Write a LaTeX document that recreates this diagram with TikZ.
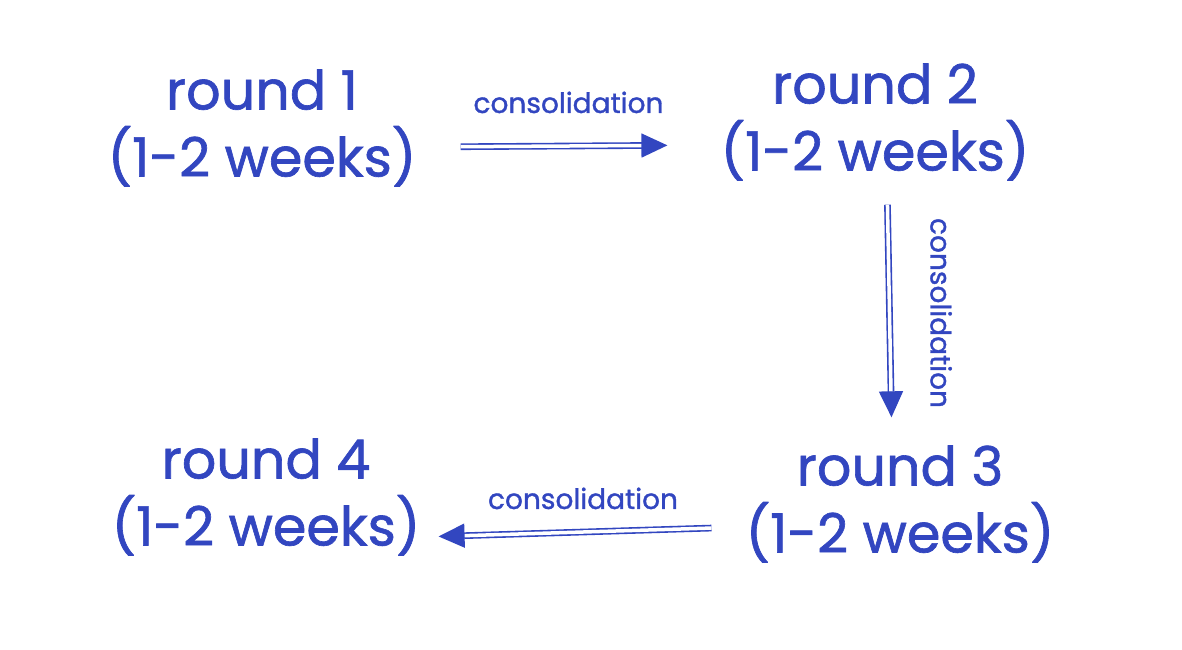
\documentclass[tikz,border=0pt]{standalone}
\usepackage{fontspec}
\setmainfont{Poppins}
\newfontfamily\hand{Poppins}[FakeBold=1.2]
\usetikzlibrary{arrows.meta,positioning}
\definecolor{ink}{RGB}{50,70,192}

\begin{document}
\begin{tikzpicture}[
  x=1pt, y=-1pt,
  phase/.style={align=center, text=ink, font=\hand\fontsize{54}{67}\selectfont, inner sep=0pt},
  lbl/.style={text=ink, font=\hand\fontsize{28}{30}\selectfont, inner sep=2pt},
  flow/.style={draw=ink, double=white, double distance=3.5pt, line width=1.6pt,
               -{Triangle[length=26pt, width=24pt, fill=ink]}},
]
\useasboundingbox (0,0) rectangle (1182,649);

% The four rounds.
\node[phase] (r1) at (262,128) {round 1\\(1-2 weeks)};
\node[phase] (r2) at (875,122) {round 2\\(1-2 weeks)};
\node[phase] (r3) at (900,504) {round 3\\(1-2 weeks)};
\node[phase] (r4) at (266,497) {round 4\\(1-2 weeks)};

% Consolidation between rounds.
\draw[flow, shorten <=44pt, shorten >=53pt] ([yshift=-19pt]r1.east) --
  node[lbl, above=30pt] {consolidation} ([yshift=-23pt]r2.west);
\draw[flow, shorten <=24pt, shorten >=28pt] ([xshift=12pt]r2.south) --
  node[lbl, xshift=38pt, rotate=-90, anchor=south] {consolidation} ([xshift=-8pt]r3.north);
\draw[flow, shorten <=34pt, shorten >=18pt] ([yshift=-23pt]r3.west) --
  node[lbl, above=20pt] {consolidation} ([yshift=-40pt]r4.east);

\end{tikzpicture}
\end{document}
